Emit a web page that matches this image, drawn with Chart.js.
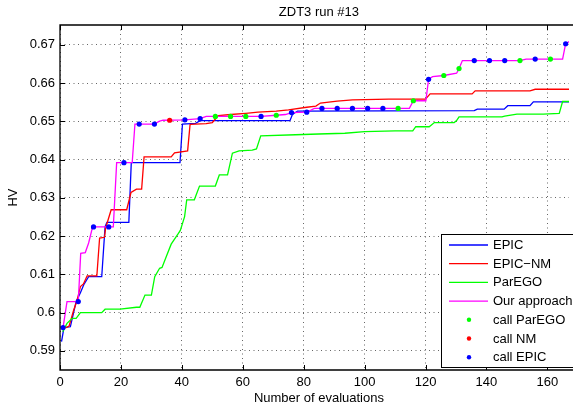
<!DOCTYPE html>
<html>
<head>
<meta charset="utf-8">
<script src="https://cdn.jsdelivr.net/npm/chart.js@4/dist/chart.umd.min.js"></script>
<style>
  html, body { margin: 0; padding: 0; background: #fff; }
  canvas { display: block; }
</style>
</head>
<body>
<canvas id="hv" width="573" height="410"></canvas>
<script>
// Labels
const chartTitle = 'ZDT3 run #13';
const xTitle = 'Number of evaluations';
const yTitle = 'HV';
const xTickValues = [0, 20, 40, 60, 80, 100, 120, 140, 160];
const yTickValues = [0.59, 0.60, 0.61, 0.62, 0.63, 0.64, 0.65, 0.66, 0.67];

// EPIC
const epicX = [0.5, 1.3, 3.4, 5.3, 6.7, 7.8, 9.4, 13.7, 14.8, 15.4, 22.6, 23.4, 39.4, 40.2, 44.5, 46, 75.5, 76.3, 78, 136, 137, 145.8, 147, 154.3, 155.4, 167.2];
const epicY = [0.5924, 0.5961, 0.5963, 0.6029, 0.6052, 0.6073, 0.6094, 0.6094, 0.6225, 0.6236, 0.6236, 0.6392, 0.6392, 0.6493, 0.6495, 0.6502, 0.6502, 0.6518, 0.6527, 0.6528, 0.6532, 0.6532, 0.6541, 0.6541, 0.6551, 0.6551];

// EPIC-NM
const nmX = [0.9, 2, 3, 4.5, 5.5, 6.7, 7.7, 8.9, 12.1, 13, 14.6, 15, 16.8, 21.9, 23.3, 25.1, 26.8, 27.6, 36.5, 37.6, 41.9, 42.7, 48, 50, 52, 56, 61, 65, 71, 75, 81, 84, 85.5, 91, 96, 108, 120, 121.5, 135.3, 136.3, 154.3, 156, 167.2];
const nmY = [0.5961, 0.5961, 0.5965, 0.6007, 0.6029, 0.6068, 0.6075, 0.6096, 0.6096, 0.6195, 0.6197, 0.6222, 0.6269, 0.6269, 0.6314, 0.6323, 0.6323, 0.6407, 0.6407, 0.6418, 0.6423, 0.6492, 0.6494, 0.6497, 0.6515, 0.6518, 0.6521, 0.6524, 0.6527, 0.6530, 0.6537, 0.6540, 0.6548, 0.6553, 0.6556, 0.6558, 0.6558, 0.6572, 0.6572, 0.6580, 0.6580, 0.6584, 0.6584];

// ParEGO
const paregoX = [0.9, 2.3, 4, 5.3, 6.7, 13.7, 14.8, 19.7, 25.1, 26.2, 27.9, 30, 31.1, 32.7, 33.5, 34.9, 36.5, 38.7, 39.5, 40.9, 41.6, 44.1, 45.8, 51, 52.3, 55, 56.6, 58.8, 63.1, 64.5, 65.9, 77.3, 84.9, 93.5, 100, 110, 115.8, 116.8, 121.2, 122.9, 129.4, 130.2, 131, 145.1, 146, 150, 158.7, 163.9, 165, 167.2];
const paregoY = [0.5950, 0.5972, 0.5985, 0.5985, 0.6000, 0.6000, 0.6009, 0.6009, 0.6014, 0.6014, 0.6046, 0.6046, 0.6094, 0.6116, 0.6118, 0.6147, 0.6179, 0.6205, 0.6215, 0.6251, 0.6295, 0.6295, 0.6331, 0.6331, 0.6360, 0.6360, 0.6417, 0.6423, 0.6425, 0.6428, 0.6462, 0.6465, 0.6467, 0.6469, 0.6473, 0.6475, 0.6475, 0.6486, 0.6486, 0.6497, 0.6497, 0.6502, 0.6512, 0.6512, 0.6514, 0.6519, 0.6519, 0.6521, 0.6552, 0.6552];

// Our approach
const oursX = [1, 2.3, 6, 6.8, 8.3, 9.4, 10.7, 17.5, 18.6, 23.7, 24.6, 31, 32.5, 33.8, 41, 46, 48, 66, 71, 74, 76, 81, 83.5, 114.7, 116, 120.1, 121, 122.3, 126, 130.2, 131, 132.1, 151, 153, 165, 166, 167.2];
const oursY = [0.5961, 0.6029, 0.6029, 0.6155, 0.6157, 0.6182, 0.6224, 0.6224, 0.6392, 0.6392, 0.6493, 0.6493, 0.6500, 0.6503, 0.6504, 0.6507, 0.6513, 0.6513, 0.6516, 0.6518, 0.6523, 0.6524, 0.6534, 0.6534, 0.6554, 0.6554, 0.6610, 0.6617, 0.6620, 0.6626, 0.6638, 0.6659, 0.6659, 0.6663, 0.6663, 0.6703, 0.6709];

// Which optimiser our approach called at each decision point
const callParegoX = [51, 56, 61, 71, 111, 116, 126, 131, 151, 161];
const callParegoY = [0.6513, 0.6513, 0.6513, 0.6516, 0.6534, 0.6554, 0.6620, 0.6638, 0.6659, 0.6663];
const callNmX = [36];
const callNmY = [0.6503];
const callEpicX = [1, 6, 11, 16, 21, 26, 31, 41, 46, 66, 76, 81, 86, 91, 96, 101, 106, 121, 136, 141, 146, 156, 166];
const callEpicY = [0.5961, 0.6029, 0.6224, 0.6224, 0.6392, 0.6493, 0.6493, 0.6504, 0.6507, 0.6513, 0.6523, 0.6524, 0.6534, 0.6534, 0.6534, 0.6534, 0.6534, 0.6610, 0.6659, 0.6659, 0.6659, 0.6663, 0.6703];

const FONT = '"Liberation Sans", Arial, Helvetica, sans-serif';
const pts = (xs, ys) => xs.map((x, i) => ({ x: x, y: ys[i] }));

const lineSet = (label, xs, ys, color, order) => ({
  label, data: pts(xs, ys), borderColor: color, backgroundColor: color,
  borderWidth: 1.3, pointRadius: 0, tension: 0, fill: false, order
});
const dotSet = (label, xs, ys, color) => ({
  label, data: pts(xs, ys), showLine: false, borderColor: color,
  backgroundColor: color, pointRadius: 2.6, pointBorderWidth: 0, order: 0
});

const legendItems = [
  { text: 'EPIC', color: '#0000ff', kind: 'line' },
  { text: 'EPIC\u2212NM', color: '#ff0000', kind: 'line' },
  { text: 'ParEGO', color: '#00ff00', kind: 'line' },
  { text: 'Our approach', color: '#ff00ff', kind: 'line' },
  { text: 'call ParEGO', color: '#00ff00', kind: 'dot' },
  { text: 'call NM', color: '#ff0000', kind: 'dot' },
  { text: 'call EPIC', color: '#0000ff', kind: 'dot' }
];

// Axes box, inward tick marks, titles and legend box
const decorations = {
  id: 'decorations',
  afterDraw(chart) {
    const c = chart.ctx;
    const a = chart.chartArea;
    const xs = chart.scales.x, ys = chart.scales.y;
    c.save();
    c.strokeStyle = '#000';
    c.lineWidth = 1.3;
    c.beginPath();
    c.moveTo(a.right + 5, a.top);
    c.lineTo(a.left, a.top);
    c.lineTo(a.left, a.bottom);
    c.lineTo(a.right + 5, a.bottom);
    c.stroke();
    c.lineWidth = 1;
    c.beginPath();
    xTickValues.forEach(v => {
      const px = Math.round(xs.getPixelForValue(v)) + 0.5;
      c.moveTo(px, a.top); c.lineTo(px, a.top + 5);
      c.moveTo(px, a.bottom); c.lineTo(px, a.bottom - 5);
    });
    yTickValues.forEach(v => {
      const py = Math.round(ys.getPixelForValue(v)) + 0.5;
      c.moveTo(a.left, py); c.lineTo(a.left + 5, py);
    });
    c.stroke();

    // titles
    const cx = (xs.getPixelForValue(0) + xs.getPixelForValue(170)) / 2;
    c.fillStyle = '#000';
    c.font = '13px ' + FONT;
    c.textAlign = 'center';
    c.textBaseline = 'middle';
    c.fillText(chartTitle, cx, 12);
    c.fillText(xTitle, cx, 398);
    c.save();
    c.translate(13, (a.top + a.bottom) / 2);
    c.rotate(-Math.PI / 2);
    c.fillText(yTitle, 0, 0);
    c.restore();

    // legend
    const lx = 441, ly = 234, lb = 367;
    c.fillStyle = '#fff';
    c.fillRect(lx, ly, chart.width - lx + 5, lb - ly);
    c.strokeStyle = '#000';
    c.lineWidth = 1;
    c.strokeRect(lx + 0.5, ly + 0.5, chart.width - lx + 5, lb - ly);
    c.textAlign = 'left';
    legendItems.forEach((it, i) => {
      const y = 245 + i * 18.7;
      if (it.kind === 'line') {
        c.strokeStyle = it.color;
        c.lineWidth = 1.3;
        c.beginPath();
        c.moveTo(449, y); c.lineTo(488, y);
        c.stroke();
      } else {
        c.fillStyle = it.color;
        c.beginPath();
        c.arc(469, y, 2.2, 0, Math.PI * 2);
        c.fill();
      }
      c.fillStyle = '#000';
      c.fillText(it.text, 493, y + 0.5);
    });
    c.restore();
  }
};

new Chart(document.getElementById('hv'), {
  type: 'line',
  data: {
    datasets: [
      lineSet('EPIC', epicX, epicY, '#0000ff', 4),
      lineSet('EPIC\u2212NM', nmX, nmY, '#ff0000', 3),
      lineSet('ParEGO', paregoX, paregoY, '#00ff00', 2),
      lineSet('Our approach', oursX, oursY, '#ff00ff', 1),
      dotSet('call ParEGO', callParegoX, callParegoY, '#00ff00'),
      dotSet('call NM', callNmX, callNmY, '#ff0000'),
      dotSet('call EPIC', callEpicX, callEpicY, '#0000ff')
    ]
  },
  options: {
    responsive: false,
    animation: false,
    devicePixelRatio: 1,
    layout: { padding: { top: 25, left: 0, right: 0, bottom: 0 } },
    plugins: { legend: { display: false }, title: { display: false }, tooltip: { enabled: false } },
    scales: {
      x: {
        type: 'linear', min: 0, max: 167.1,
        afterFit: s => { s.height = 40; },
        afterBuildTicks: s => { s.ticks = xTickValues.map(v => ({ value: v })); },
        grid: { color: 'rgba(0,0,0,0.6)', lineWidth: 1, drawTicks: false },
        border: { display: false, dash: [1, 3.5] },
        ticks: { color: '#000', padding: 5, maxRotation: 0, font: { family: FONT, size: 13 } }
      },
      y: {
        type: 'linear', min: 0.585, max: 0.6752,
        afterFit: s => { s.width = 60; },
        afterBuildTicks: s => { s.ticks = yTickValues.map(v => ({ value: v })); },
        grid: { color: 'rgba(0,0,0,0.6)', lineWidth: 1, drawTicks: false },
        border: { display: false, dash: [1, 3.5] },
        ticks: { color: '#000', padding: 5, font: { family: FONT, size: 13 },
                 callback: v => String(Number(v.toFixed(2))) }
      }
    }
  },
  plugins: [decorations]
});
</script>
</body>
</html>
